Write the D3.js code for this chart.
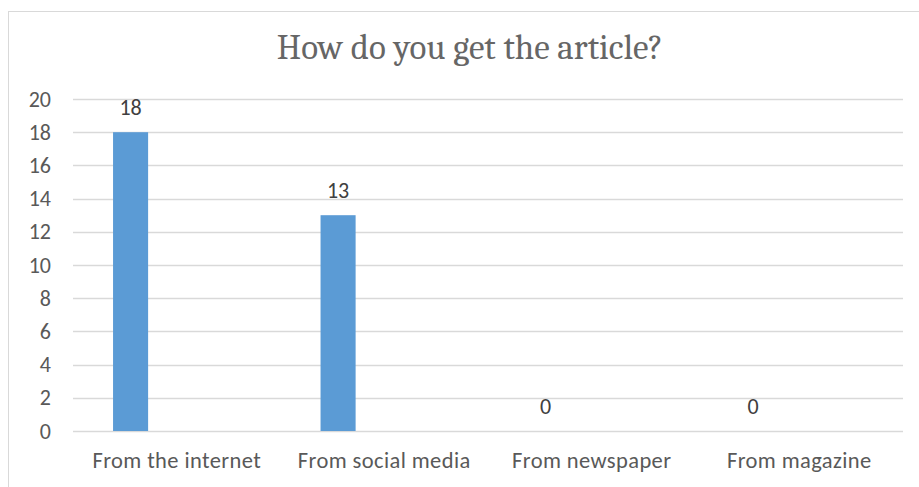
<!DOCTYPE html>
<html>
<head>
<meta charset="utf-8">
<script src="https://cdn.jsdelivr.net/npm/d3@7"></script>
<style>
  body { margin: 0; background: #fff; }
  svg { display: block; }
</style>
</head>
<body>
<svg id="chart" width="919" height="487"></svg>
<script>
const categories = ['From the internet', 'From social media', 'From newspaper', 'From magazine']
const counts = [18, 13, 0, 0]
const yTicks = [0, 2, 4, 6, 8, 10, 12, 14, 16, 18, 20]
const title = 'How do you get the article?'

const width = 919
const height = 487
const margin = { top: 99, right: 16, bottom: 56, left: 73 }
const labelFont = "Calibri, Carlito, Lato, 'Open Sans', sans-serif"
const textColor = '#595959'
const gridColor = '#d9d9d9'

const svg = d3.select('#chart')

// chart frame, runs off the right and bottom edges like the screenshot
svg.append('rect')
    .attr('x', 8.5)
    .attr('y', 11.5)
    .attr('width', width)
    .attr('height', height)
    .attr('fill', '#fff')
    .attr('stroke', gridColor)

svg.append('text')
    .attr('x', 470)
    .attr('y', 59)
    .attr('text-anchor', 'middle')
    .attr('fill', '#666')
    .style('font-family', "Cambria, 'Liberation Serif', 'DejaVu Serif', serif")
    .style('font-size', '35px')
    .style('font-weight', 300)
    .text(title)

const xScale = d3.scaleBand()
    .domain(categories)
    .range([margin.left, width - margin.right])
    .padding(0)

const yScale = d3.scaleLinear()
    .domain([0, 20])
    .range([height - margin.bottom, margin.top])

// gridlines
svg.append('g')
    .selectAll('line')
    .data(yTicks)
    .join('line')
    .attr('x1', margin.left)
    .attr('x2', width - margin.right)
    .attr('y1', d => Math.round(yScale(d)) + 0.5)
    .attr('y2', d => Math.round(yScale(d)) + 0.5)
    .attr('stroke', gridColor)
    .attr('stroke-width', 1.5)

// y axis labels
const yAxis = d3.axisLeft(yScale).tickValues(yTicks).tickSize(0).tickPadding(22)
svg.append('g')
    .attr('transform', `translate(${margin.left},0)`)
    .call(yAxis)
    .call(g => g.select('.domain').remove())
    .call(g => g.selectAll('text')
        .attr('fill', textColor)
        .style('font-family', labelFont)
        .style('font-size', '22px'))

// x axis labels
const xAxis = d3.axisBottom(xScale).tickSize(0).tickPadding(21)
svg.append('g')
    .attr('transform', `translate(0,${height - margin.bottom})`)
    .call(xAxis)
    .call(g => g.select('.domain').remove())
    .call(g => g.selectAll('text')
        .attr('fill', textColor)
        .style('font-family', labelFont)
        .style('font-size', '22.5px')
        .style('letter-spacing', '0.4px'))

const bw = xScale.bandwidth()
const barOffset = bw * 0.193
const barWidth = bw * 0.169

const data = categories.map((c, i) => ({ cat: c, value: counts[i] }))

svg.append('g')
    .selectAll('rect')
    .data(data)
    .join('rect')
    .attr('x', d => xScale(d.cat) + barOffset)
    .attr('y', d => yScale(d.value))
    .attr('width', barWidth)
    .attr('height', d => yScale(0) - yScale(d.value))
    .attr('fill', '#5b9bd5')

svg.append('g')
    .selectAll('text')
    .data(data)
    .join('text')
    .attr('x', d => xScale(d.cat) + barOffset + barWidth / 2)
    .attr('y', d => yScale(d.value) - 25)
    .attr('dy', '0.35em')
    .attr('text-anchor', 'middle')
    .attr('fill', '#404040')
    .style('font-family', labelFont)
    .style('font-size', '22px')
    .text(d => d.value)
</script>
</body>
</html>
